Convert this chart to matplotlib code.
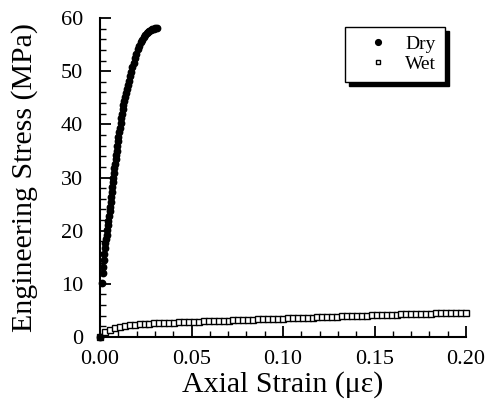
import matplotlib
matplotlib.use("Agg")
import matplotlib.pyplot as plt
from matplotlib.ticker import MultipleLocator

plt.rcParams['font.family'] = ['Liberation Serif', 'DejaVu Serif']

dry_strain = [0.0000, 0.0009, 0.0014, 0.0018, 0.0021, 0.0023, 0.0026, 0.0028, 0.0032, 0.0036,
              0.0040, 0.0043, 0.0046, 0.0049, 0.0052, 0.0055, 0.0058, 0.0061, 0.0064, 0.0067,
              0.0070, 0.0073, 0.0076, 0.0079, 0.0082, 0.0085, 0.0088, 0.0091, 0.0094, 0.0097,
              0.0100, 0.0104, 0.0108, 0.0112, 0.0116, 0.0120, 0.0124, 0.0128, 0.0132, 0.0137,
              0.0142, 0.0147, 0.0152, 0.0158, 0.0164, 0.0170, 0.0176, 0.0183, 0.0191, 0.0198,
              0.0206, 0.0214, 0.0222, 0.0230, 0.0238, 0.0246, 0.0254, 0.0262, 0.0270, 0.0278,
              0.0286, 0.0294, 0.0302, 0.0310]
dry_stress = [0.0, 10.1, 12.0, 13.2, 14.5, 15.7, 16.7, 17.6, 18.4, 19.2,
              20.1, 21.0, 21.9, 22.8, 23.7, 24.5, 25.4, 26.3, 27.3, 28.2,
              29.1, 30.0, 30.9, 31.8, 32.6, 33.4, 34.2, 35.0, 35.9, 36.8,
              37.6, 38.5, 39.4, 40.3, 41.2, 42.0, 42.8, 43.6, 44.3, 45.1,
              45.9, 46.7, 47.4, 48.2, 49.0, 49.9, 50.7, 51.6, 52.5, 53.3,
              54.1, 54.8, 55.4, 55.9, 56.4, 56.8, 57.1, 57.4, 57.6, 57.8,
              57.9, 58.0, 58.1, 58.1]

wet_strain = [0.0000, 0.0027, 0.0054, 0.0081, 0.0108, 0.0135, 0.0162, 0.0189, 0.0216, 0.0243,
              0.0270, 0.0297, 0.0324, 0.0351, 0.0378, 0.0405, 0.0432, 0.0459, 0.0486, 0.0513,
              0.0540, 0.0567, 0.0594, 0.0621, 0.0648, 0.0675, 0.0702, 0.0729, 0.0756, 0.0783,
              0.0810, 0.0837, 0.0864, 0.0891, 0.0918, 0.0945, 0.0972, 0.0999, 0.1026, 0.1053,
              0.1080, 0.1107, 0.1134, 0.1161, 0.1188, 0.1215, 0.1242, 0.1269, 0.1296, 0.1323,
              0.1350, 0.1377, 0.1404, 0.1431, 0.1458, 0.1485, 0.1512, 0.1539, 0.1566, 0.1593,
              0.1620, 0.1647, 0.1674, 0.1701, 0.1728, 0.1755, 0.1782, 0.1809, 0.1836, 0.1863,
              0.1890, 0.1917, 0.1944, 0.1971, 0.1998]
wet_stress = [0.0, 1.0, 1.4, 1.7, 1.9, 2.1, 2.2, 2.3, 2.4, 2.45,
              2.5, 2.55, 2.6, 2.65, 2.7, 2.72, 2.75, 2.8, 2.83, 2.86,
              2.9, 2.93, 2.96, 3.0, 3.03, 3.06, 3.1, 3.13, 3.16, 3.2,
              3.23, 3.26, 3.3, 3.33, 3.36, 3.4, 3.43, 3.46, 3.5, 3.53,
              3.56, 3.6, 3.63, 3.66, 3.7, 3.73, 3.76, 3.8, 3.83, 3.86,
              3.9, 3.93, 3.96, 4.0, 4.03, 4.06, 4.1, 4.13, 4.16, 4.2,
              4.22, 4.25, 4.28, 4.3, 4.33, 4.36, 4.4, 4.42, 4.45, 4.48,
              4.5, 4.53, 4.56, 4.58, 4.6]

x_ticks = [0.00, 0.05, 0.10, 0.15, 0.20]
x_ticklabels = ["0.00", "0.05", "0.10", "0.15", "0.20"]
y_ticks = [0, 10, 20, 30, 40, 50, 60]

fig = plt.figure(figsize=(4.88, 4.09), dpi=100)
ax = fig.add_axes([0.205, 0.176, 0.750, 0.780])

ax.plot(dry_strain, dry_stress, linestyle='none', marker='o', markersize=4.6,
        color='black', label='Dry', clip_on=False, zorder=3)
ax.plot(wet_strain, wet_stress, linestyle='none', marker='s', markersize=3.8,
        markerfacecolor='white', markeredgecolor='black', markeredgewidth=1.0,
        label='Wet', clip_on=False, zorder=2)

ax.set_xlim(0, 0.20)
ax.set_ylim(0, 60)
ax.set_xticks(x_ticks)
ax.set_xticklabels(x_ticklabels)
ax.set_yticks(y_ticks)
ax.xaxis.set_minor_locator(MultipleLocator(0.01))
ax.yaxis.set_minor_locator(MultipleLocator(2))

for side in ['top', 'right']:
    ax.spines[side].set_visible(False)
for side in ['left', 'bottom']:
    ax.spines[side].set_linewidth(1.5)

ax.tick_params(which='major', direction='in', length=8, width=1.3, labelsize=16)
ax.tick_params(axis='x', which='major', pad=9)
ax.tick_params(axis='y', which='major', pad=12)
ax.tick_params(which='minor', direction='in', length=4, width=1.0)

ax.set_xlabel('Axial Strain (\u03bc\u03b5)', fontsize=21.5, labelpad=2)
ax.set_ylabel('Engineering Stress (MPa)', fontsize=21.5)
ax.yaxis.set_label_coords(-0.169, 0.5)

leg = ax.legend(loc='upper right', bbox_to_anchor=(0.943, 0.972), frameon=True, fancybox=False,
                shadow={'color': 'black', 'alpha': 1.0, 'ox': 3, 'oy': -3},
                edgecolor='black', fontsize=14, handletextpad=0.15, borderpad=0.45,
                labelspacing=0.1, handlelength=2.5, borderaxespad=0.0, markerscale=0.9)
leg.get_frame().set_linewidth(1.0)

fig.savefig('out.png', dpi=100)
